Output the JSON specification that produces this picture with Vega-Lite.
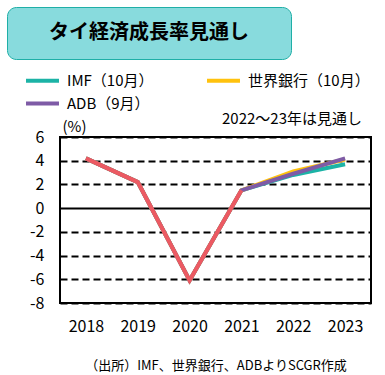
{
  "$schema": "https://vega.github.io/schema/vega-lite/v6.json",
  "padding": {"left": 6, "top": 6, "right": 5, "bottom": 5},
  "background": "white",
  "config": {"font": "Noto Sans CJK JP"},
  "width": 311,
  "height": 166,
  "view": {"stroke": "#000000", "strokeWidth": 2},
  "title": {"text": "2022～23年は見通し", "anchor": "end", "frame": "group", "fontSize": 15, "fontWeight": "normal", "color": "#000000", "offset": -120, "dx": -9},
  "data": {"values": [
    {"year": "2018", "series": "IMF（10月）", "value": 4.2},
    {"year": "2019", "series": "IMF（10月）", "value": 2.2},
    {"year": "2020", "series": "IMF（10月）", "value": -6.1},
    {"year": "2021", "series": "IMF（10月）", "value": 1.5},
    {"year": "2022", "series": "IMF（10月）", "value": 2.8},
    {"year": "2023", "series": "IMF（10月）", "value": 3.7},
    {"year": "2018", "series": "世界銀行（10月）", "value": 4.2},
    {"year": "2019", "series": "世界銀行（10月）", "value": 2.2},
    {"year": "2020", "series": "世界銀行（10月）", "value": -6.1},
    {"year": "2021", "series": "世界銀行（10月）", "value": 1.5},
    {"year": "2022", "series": "世界銀行（10月）", "value": 3.1},
    {"year": "2023", "series": "世界銀行（10月）", "value": 4.1},
    {"year": "2018", "series": "ADB（9月）", "value": 4.2},
    {"year": "2019", "series": "ADB（9月）", "value": 2.2},
    {"year": "2020", "series": "ADB（9月）", "value": -6.1},
    {"year": "2021", "series": "ADB（9月）", "value": 1.5},
    {"year": "2022", "series": "ADB（9月）", "value": 2.9},
    {"year": "2023", "series": "ADB（9月）", "value": 4.2},
    {"year": "2018", "series": "実績", "value": 4.2},
    {"year": "2019", "series": "実績", "value": 2.2},
    {"year": "2020", "series": "実績", "value": -6.1},
    {"year": "2021", "series": "実績", "value": 1.5}
  ]},
  "layer": [
    {
      "transform": [{"filter": "datum.series !== '実績'"}],
      "mark": {"type": "line", "strokeWidth": 4},
      "encoding": {
        "x": {
          "field": "year", "type": "ordinal",
          "axis": {
            "title": "（出所）IMF、世界銀行、ADBよりSCGR作成",
            "titleFontSize": 13, "titleFontWeight": "normal", "titleColor": "#000000", "titlePadding": 25,
            "labelAngle": 0, "labelFontSize": 16, "labelColor": "#000000", "labelPadding": 15,
            "ticks": false, "domain": false, "grid": false
          }
        },
        "y": {
          "field": "value", "type": "quantitative",
          "scale": {"domain": [-8, 6], "nice": false, "zero": false},
          "axis": {
            "values": [-8, -6, -4, -2, 0, 2, 4, 6], "labelOverlap": false,
            "labelExpr": "'' + datum.value",
            "title": "(%)", "titleAngle": 0, "titleX": 2, "titleY": -3, "titleAlign": "left", "titleBaseline": "bottom",
            "titleFontSize": 15, "titleFontWeight": "normal", "titleColor": "#000000",
            "labelFontSize": 16, "labelColor": "#000000", "labelPadding": 16,
            "ticks": false, "domain": false, "minExtent": 53,
            "grid": true, "gridColor": "#000000", "gridWidth": 2, "gridOpacity": 1,
            "gridDash": {"condition": {"test": "datum.value === 0", "value": []}, "value": [7, 4]}
          }
        },
        "color": {
          "field": "series", "type": "nominal",
          "scale": {
            "domain": ["IMF（10月）", "世界銀行（10月）", "ADB（9月）", "実績"],
            "range": ["#1CB3A6", "#FFC20E", "#7E5BA6", "#EC5A62"]
          },
          "legend": {
            "values": ["IMF（10月）", "世界銀行（10月）", "ADB（9月）"],
            "orient": "none", "legendX": -28, "legendY": -67,
            "direction": "horizontal", "columns": 2, "gridAlign": "each", "title": null,
            "symbolType": "M-2,0H2", "symbolSize": 272, "symbolStrokeWidth": 4,
            "labelFontSize": 15, "labelColor": "#000000", "labelLimit": 300, "labelOffset": 14,
            "columnPadding": 45, "rowPadding": 4, "padding": 0
          }
        }
      }
    },
    {
      "transform": [{"filter": "datum.series === '実績'"}],
      "mark": {"type": "line", "strokeWidth": 4},
      "encoding": {
        "x": {
          "field": "year", "type": "ordinal",
          "axis": {
            "title": "（出所）IMF、世界銀行、ADBよりSCGR作成",
            "titleFontSize": 13, "titleFontWeight": "normal", "titleColor": "#000000", "titlePadding": 25,
            "labelAngle": 0, "labelFontSize": 16, "labelColor": "#000000", "labelPadding": 15,
            "ticks": false, "domain": false, "grid": false
          }
        },
        "y": {
          "field": "value", "type": "quantitative",
          "scale": {"domain": [-8, 6], "nice": false, "zero": false},
          "axis": {
            "values": [-8, -6, -4, -2, 0, 2, 4, 6], "labelOverlap": false,
            "labelExpr": "'' + datum.value",
            "title": "(%)", "titleAngle": 0, "titleX": 2, "titleY": -3, "titleAlign": "left", "titleBaseline": "bottom",
            "titleFontSize": 15, "titleFontWeight": "normal", "titleColor": "#000000",
            "labelFontSize": 16, "labelColor": "#000000", "labelPadding": 16,
            "ticks": false, "domain": false, "minExtent": 53,
            "grid": true, "gridColor": "#000000", "gridWidth": 2, "gridOpacity": 1,
            "gridDash": {"condition": {"test": "datum.value === 0", "value": []}, "value": [7, 4]}
          }
        },
        "color": {
          "field": "series", "type": "nominal",
          "scale": {
            "domain": ["IMF（10月）", "世界銀行（10月）", "ADB（9月）", "実績"],
            "range": ["#1CB3A6", "#FFC20E", "#7E5BA6", "#EC5A62"]
          },
          "legend": {
            "values": ["IMF（10月）", "世界銀行（10月）", "ADB（9月）"],
            "orient": "none", "legendX": -28, "legendY": -67,
            "direction": "horizontal", "columns": 2, "gridAlign": "each", "title": null,
            "symbolType": "M-2,0H2", "symbolSize": 272, "symbolStrokeWidth": 4,
            "labelFontSize": 15, "labelColor": "#000000", "labelLimit": 300, "labelOffset": 14,
            "columnPadding": 45, "rowPadding": 4, "padding": 0
          }
        }
      }
    },
    {
      "data": {"values": [{"label": "タイ経済成長率見通し"}]},
      "mark": {"type": "point", "opacity": 0},
      "encoding": {
        "shape": {
          "field": "label", "type": "nominal",
          "scale": {"domain": ["タイ経済成長率見通し", ""], "range": ["circle", "circle"]},
          "legend": {
            "values": ["タイ経済成長率見通し", ""],
            "orient": "none", "legendX": -53, "legendY": -130,
            "direction": "horizontal", "columns": 2, "gridAlign": "each", "title": null,
            "symbolSize": 9, "symbolOpacity": 0, "symbolStrokeWidth": 0,
            "labelFontSize": 20, "labelFontWeight": "bold", "labelColor": "#000000", "labelLimit": 400, "labelOffset": 6,
            "columnPadding": 0, "padding": 16,
            "fillColor": "#88DBDD", "strokeColor": "#1FAFA7", "cornerRadius": 9,
            "encode": {"legend": {"update": {"strokeWidth": {"value": 3}}}}
          }
        }
      }
    }
  ]
}
